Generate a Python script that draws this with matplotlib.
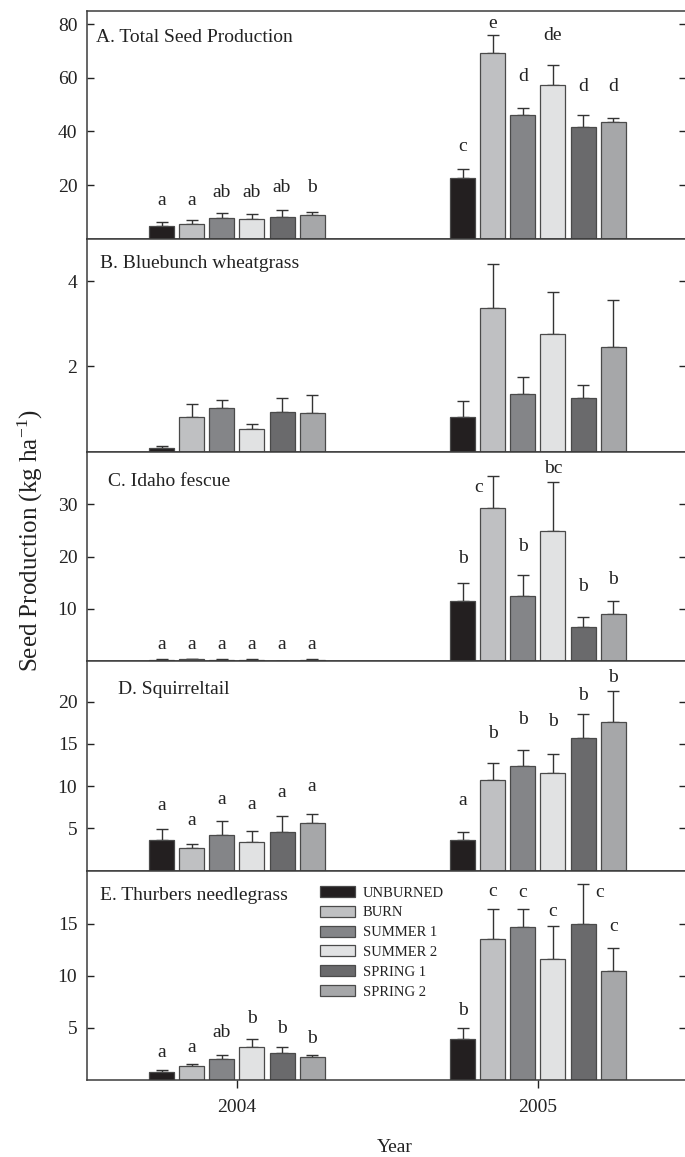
import matplotlib
matplotlib.use('Agg')
import matplotlib.pyplot as plt
import numpy as np
from matplotlib.patches import Patch

plt.rcParams['font.family'] = ['Liberation Serif', 'DejaVu Serif']
plt.rcParams['mathtext.fontset'] = 'custom'
plt.rcParams['mathtext.rm'] = 'Liberation Serif'
plt.rcParams['mathtext.it'] = 'Liberation Serif:italic'

# ---------------- data ----------------
years = ['2004', '2005']
treatments = ['UNBURNED', 'BURN', 'SUMMER 1', 'SUMMER 2', 'SPRING 1', 'SPRING 2']
colors = ['#231f20', '#bfc0c2', '#848588', '#e1e2e3', '#6a6a6c', '#a6a7a9']

titles = ['A. Total Seed Production', 'B. Bluebunch wheatgrass', 'C. Idaho fescue',
          'D. Squirreltail', 'E. Thurbers needlegrass']

# means (per treatment) for 2004 and 2005, plus standard errors
A_2004 = [4.7, 5.4, 7.6, 7.4, 8.1, 8.9]
A_2004_se = [1.6, 1.7, 1.8, 1.9, 2.6, 1.1]
A_2005 = [22.5, 69.3, 46.0, 57.2, 41.5, 43.5]
A_2005_se = [3.5, 6.7, 2.8, 7.6, 4.5, 1.4]
A_let_2004 = ['a', 'a', 'ab', 'ab', 'ab', 'b']
A_let_2005 = ['c', 'e', 'd', 'de', 'd', 'd']
A_lety_2004 = [14.4, 14.4, 17.4, 17.4, 18.9, 18.9]
A_lety_2005 = [34.3, 80.4, 60.7, 76.0, 56.9, 56.9]

B_2004 = [0.08, 0.82, 1.03, 0.53, 0.93, 0.90]
B_2004_se = [0.05, 0.30, 0.18, 0.13, 0.34, 0.42]
B_2005 = [0.81, 3.36, 1.36, 2.76, 1.26, 2.46]
B_2005_se = [0.37, 1.05, 0.39, 0.99, 0.30, 1.11]

C_2004 = [0.3, 0.35, 0.3, 0.3, 0.1, 0.3]
C_2004_se = [0.1, 0.1, 0.1, 0.1, 0.05, 0.1]
C_2005 = [11.5, 29.2, 12.4, 24.8, 6.6, 9.0]
C_2005_se = [3.4, 6.1, 4.0, 9.5, 1.8, 2.6]
C_let_2004 = ['a', 'a', 'a', 'a', 'a', 'a']
C_let_2005 = ['b', 'c', 'b', 'bc', 'b', 'b']
C_lety_2004 = [3.3, 3.3, 3.3, 3.3, 3.3, 3.3]
C_lety_2005 = [19.7, 33.1, 21.9, 36.8, 14.3, 15.7]

D_2004 = [3.57, 2.7, 4.2, 3.42, 4.6, 5.6]
D_2004_se = [1.4, 0.5, 1.67, 1.3, 1.86, 1.15]
D_2005 = [3.6, 10.74, 12.33, 11.57, 15.65, 17.6]
D_2005_se = [0.96, 2.0, 1.9, 2.2, 2.95, 3.7]
D_let_2004 = ['a', 'a', 'a', 'a', 'a', 'a']
D_let_2005 = ['a', 'b', 'b', 'b', 'b', 'b']
D_lety_2004 = [7.65, 5.87, 8.45, 7.85, 9.24, 9.95]
D_lety_2005 = [8.3, 16.3, 17.9, 17.7, 20.8, 22.9]

E_2004 = [0.74, 1.31, 1.95, 3.17, 2.52, 2.14]
E_2004_se = [0.19, 0.22, 0.45, 0.75, 0.63, 0.25]
E_2005 = [3.95, 13.5, 14.7, 11.6, 15.0, 10.4]
E_2005_se = [1.0, 2.9, 1.7, 3.2, 3.85, 2.25]
E_let_2004 = ['a', 'a', 'ab', 'b', 'b', 'b']
E_let_2005 = ['b', 'c', 'c', 'c', 'c', 'c']
E_lety_2004 = [2.6, 3.06, 4.5, 5.9, 4.9, 4.0]
E_lety_2005 = [6.66, 18.1, 18.0, 16.2, 18.0, 14.7]

yticks = [[20, 40, 60, 80], [2, 4], [10, 20, 30], [5, 10, 15, 20], [5, 10, 15]]
ylims = [85, 5.0, 40, 24.8, 20.1]

panels = [
    (A_2004, A_2004_se, A_2005, A_2005_se, A_let_2004, A_let_2005, A_lety_2004, A_lety_2005),
    (B_2004, B_2004_se, B_2005, B_2005_se, None, None, None, None),
    (C_2004, C_2004_se, C_2005, C_2005_se, C_let_2004, C_let_2005, C_lety_2004, C_lety_2005),
    (D_2004, D_2004_se, D_2005, D_2005_se, D_let_2004, D_let_2005, D_lety_2004, D_lety_2005),
    (E_2004, E_2004_se, E_2005, E_2005_se, E_let_2004, E_let_2005, E_lety_2004, E_lety_2005),
]

# ---------------- layout ----------------
W, H = 685, 1157
fig = plt.figure(figsize=(W / 100, H / 100), dpi=100)

# pixel (top, bottom) of each panel
panel_px = [(11, 238.6), (238.6, 451.7), (451.7, 661.3), (661.3, 870.5), (870.5, 1079.7)]
left_px, right_px = 87, 686
title_px = [(96, 37), (100, 263), (108, 482), (118, 690), (100, 895)]
# small horizontal nudges of some significance letters (panel, year, treatment): dx in data units
letter_dx = {(2, 1, 1): -0.047, (4, 1, 4): 0.056}

bar_w = 0.083
step = 0.1
edge = '#4a4a4a'
spine_c = '#3c3c3c'

axes = []
for i, (top, bot) in enumerate(panel_px):
    ax = fig.add_axes([left_px / W, 1 - bot / H, (right_px - left_px) / W, (bot - top) / H])
    axes.append(ax)
    m04, s04, m05, s05, l04, l05, ly04, ly05 = panels[i]
    for t in range(6):
        xs = np.array([0, 1]) + (t - 2.5) * step
        vals = [m04[t], m05[t]]
        ses = [s04[t], s05[t]]
        ax.bar(xs, vals, width=bar_w, color=colors[t], edgecolor=edge, linewidth=0.9,
               zorder=2, label=treatments[t])
        ax.errorbar(xs, vals, yerr=[[0, 0], ses], fmt='none', ecolor='#333333',
                    elinewidth=1.0, capsize=4.2, capthick=1.0, zorder=1)
        if l04 is not None:
            for yi, (labs, lys) in enumerate([(l04, ly04), (l05, ly05)]):
                dx = letter_dx.get((i, yi, t), 0)
                ax.text(xs[yi] + dx, lys[t], labs[t], ha='center', va='center',
                        fontsize=14, color='#222222')
    ax.set_xlim(-0.498, 1.492)
    ax.set_ylim(0, ylims[i])
    ax.set_yticks(yticks[i])
    ax.tick_params(axis='y', which='both', direction='in', length=5, width=1,
                   left=True, right=True, labelsize=14, pad=7, colors='#222222')
    for sp in ax.spines.values():
        sp.set_color(spine_c)
        sp.set_linewidth(1.1)
    tx, ty = title_px[i]
    ax.text((tx - left_px) / (right_px - left_px), (bot - ty) / (bot - top), titles[i],
            transform=ax.transAxes, ha='left', va='center', fontsize=14, color='#222222')
    if i < 4:
        ax.set_xticks([])
    else:
        ax.set_xticks([0, 1])
        ax.set_xticklabels(years)
        ax.tick_params(axis='x', direction='out', length=6, width=1, labelsize=14,
                       pad=8, colors='#222222')

# legend in panel E
axE = axes[4]
handles = [Patch(facecolor=c, edgecolor=edge, linewidth=0.9) for c in colors]
leg = axE.legend(handles, treatments, loc='upper left',
                 bbox_to_anchor=((320 - left_px) / (right_px - left_px),
                                 (1079.7 - 886) / (1079.7 - 870.5)),
                 frameon=False, fontsize=10.5, handlelength=2.4, handleheight=0.8,
                 labelspacing=0.42, handletextpad=0.55, borderpad=0, borderaxespad=0)
for txt in leg.get_texts():
    txt.set_color('#222222')

fig.text(395 / W, 1 - 1148 / H, 'Year', ha='center', va='center', fontsize=14, color='#222222')
fig.text(30 / W, 1 - 541 / H, r'Seed Production (kg ha$^{\mathregular{-1}}$)', rotation=90,
         ha='center', va='center', fontsize=18, color='#222222')

fig.savefig('out.png', dpi=100)
